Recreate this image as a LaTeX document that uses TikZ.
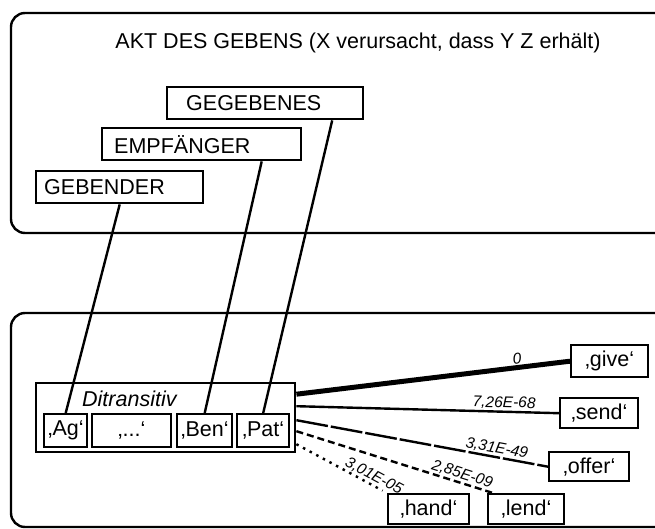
\documentclass[tikz,border=0pt]{standalone}
\usepackage{fontspec}
\setmainfont{Liberation Sans}
\usepackage{tikz}

\tikzset{
  frame/.style={draw, line width=2.4pt, rounded corners=14pt},
  rolebox/.style={draw, line width=2.4pt, anchor=north west, minimum height=32pt,
    inner ysep=0pt, align=left, font=\fontsize{21.5}{24}\selectfont},
  slotbox/.style={draw, line width=2.4pt, anchor=north west, minimum height=33pt,
    inner sep=0pt, font=\fontsize{21.5}{24}\selectfont},
  verbbox/.style={draw, line width=2.4pt, anchor=north west, minimum height=30pt,
    inner sep=0pt, font=\fontsize{21.5}{24}\selectfont},
  link/.style={line width=2.4pt},
  prob/.style={sloped, above, inner sep=1pt, font=\fontsize{15.5}{17}\selectfont\itshape},
}

\begin{document}
\begin{tikzpicture}[x=1pt,y=-1pt]
    \useasboundingbox (0,0) rectangle (655,529);

    % draw the two frames
    \draw[frame] (11,13) rectangle (672,233);
    \draw[frame] (11,313) rectangle (672,527);

    % draw title
    \node[font=\fontsize{21.5}{24}\selectfont] (title) at (358,43)
      {AKT DES GEBENS (X verursacht, dass Y Z erhält)};

    % draw role boxes
    \node[rolebox, inner xsep=8pt, text width=151pt] (gebender) at (35,170) {GEBENDER};
    \node[rolebox, inner xsep=12pt, text width=175pt] (empfaenger) at (101,127) {EMPFÄNGER};
    \node[rolebox, inner xsep=19pt, text width=158pt] (gegebenes) at (166,86) {GEGEBENES};

    % draw construction box and its slots
    \node[draw, line width=2.4pt, anchor=north west, minimum width=259pt, minimum height=69pt,
      inner sep=0pt] (ditr) at (35,382) {};
    \node[anchor=west, inner sep=0pt, font=\fontsize{21.5}{24}\selectfont\itshape]
      (ditrname) at (82,399) {Ditransitiv};
    \node[slotbox, minimum width=43pt] (ag) at (43,413) {‚Ag‘};
    \node[slotbox, minimum width=79pt] (etc) at (91,413) {‚...‘};
    \node[slotbox, minimum width=55pt] (ben) at (176,413) {‚Ben‘};
    \node[slotbox, minimum width=52pt] (pat) at (236,413) {‚Pat‘};

    % draw verb boxes
    \node[verbbox, minimum width=77pt, minimum height=32pt] (give) at (570,344) {‚give‘};
    \node[verbbox, minimum width=78pt] (send) at (559,397) {‚send‘};
    \node[verbbox, minimum width=80pt, minimum height=29pt] (offer) at (548,451) {‚offer‘};
    \node[verbbox, minimum width=81pt] (hand) at (387,493) {‚hand‘};
    \node[verbbox, minimum width=76pt] (lend) at (487,493) {‚lend‘};

    % roles to slots
    \draw[link] (gebender.south) -- (ag.north);
    \draw[link] ([xshift=60pt]empfaenger.south) -- (ben.north);
    \draw[link] ([xshift=67pt]gegebenes.south) -- (pat.north);

    % construction to verbs
    \draw[line width=5pt] ([yshift=23.5pt]ditr.east) -- (give.west)
      node[prob, pos=0.81] {0};
    \draw[link] ([yshift=11.5pt]ditr.east) -- (send.west)
      node[prob, pos=0.79] {7,26E-68};
    \draw[link, dash pattern=on 32pt off 3pt] ([yshift=-2.5pt]ditr.east) -- (offer.west)
      node[prob, pos=0.79] {3,31E-49};
    \draw[link, dash pattern=on 7pt off 4pt] ([yshift=-13.5pt]ditr.east) -- ([xshift=6pt]lend.north west)
      node[prob, pos=0.83] {2,85E-09};
    \draw[link, dash pattern=on 2.5pt off 5pt, shorten >=5pt] ([yshift=-26.5pt]ditr.east) -- (hand.north west)
      node[prob, pos=0.81] {3,01E-05};
\end{tikzpicture}
\end{document}
